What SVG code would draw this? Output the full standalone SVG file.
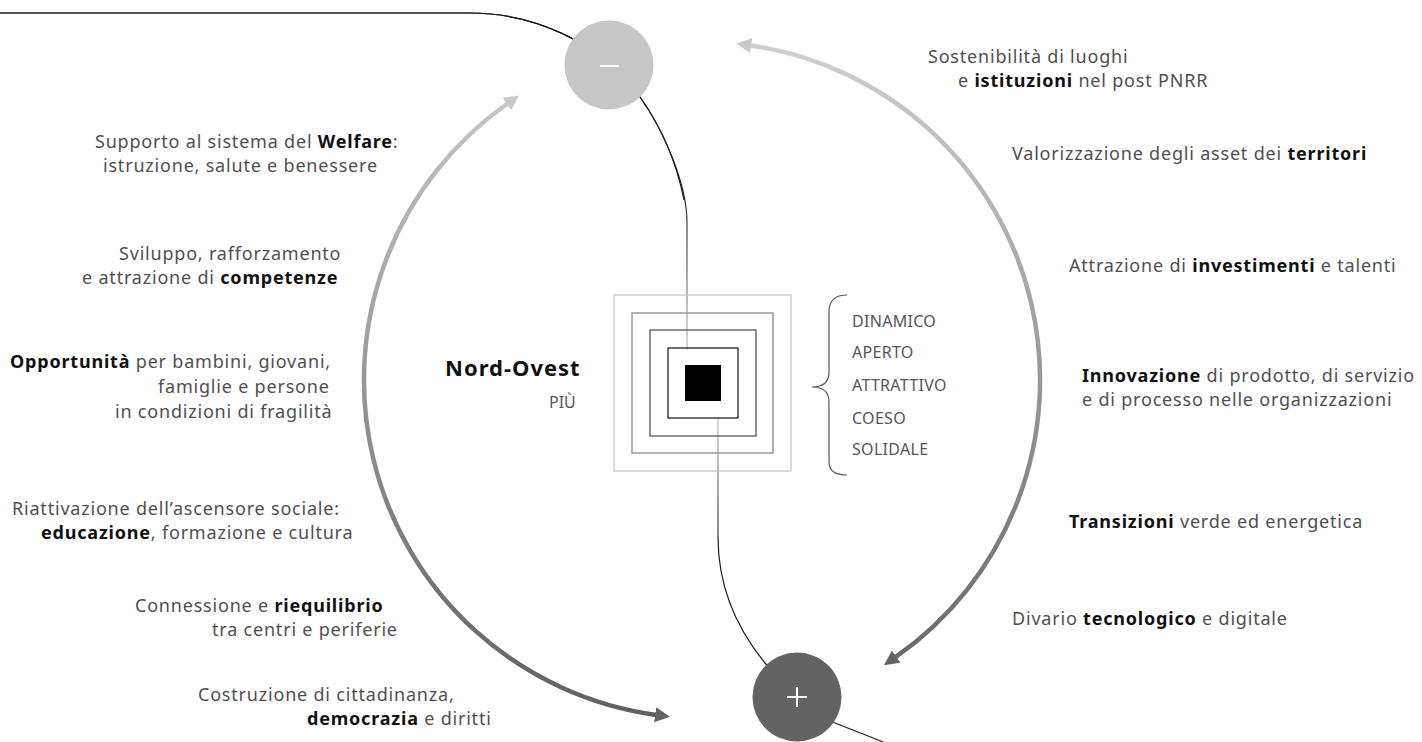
<svg xmlns="http://www.w3.org/2000/svg" width="1422" height="742" viewBox="0 0 1422 742">
<defs>
<style>
.t{font-family:"Noto Sans","DejaVu Sans",sans-serif;font-size:18px;fill:#4f4f4f;letter-spacing:0.8px}
.b{font-weight:bold;fill:#111}
.cap{font-family:"Noto Sans","DejaVu Sans",sans-serif;font-size:16px;fill:#555;letter-spacing:0.3px}
.sq{fill:none;stroke-width:1.3}
.arc{fill:none;stroke:url(#arcGrad);stroke-width:4.5}
</style>
<linearGradient id="arcGrad" gradientUnits="userSpaceOnUse" x1="0" y1="40" x2="0" y2="720">
<stop offset="0" stop-color="#d0d0d0"/>
<stop offset="1" stop-color="#5f5f5f"/>
</linearGradient>
<linearGradient id="topLine" gradientUnits="userSpaceOnUse" x1="0" y1="190" x2="0" y2="350">
<stop offset="0" stop-color="#1a1a1a"/>
<stop offset="1" stop-color="#c0c0c0"/>
</linearGradient>
<linearGradient id="botLine" gradientUnits="userSpaceOnUse" x1="0" y1="420" x2="0" y2="560">
<stop offset="0" stop-color="#c0c0c0"/>
<stop offset="1" stop-color="#1a1a1a"/>
</linearGradient>
<marker id="headLight" markerUnits="userSpaceOnUse" markerWidth="16" markerHeight="16" refX="1" refY="7.5" orient="auto-start-reverse">
<path d="M0,0 L15,7.5 L0,15 Z" fill="#c8c8c8"/>
</marker>
<marker id="headDark" markerUnits="userSpaceOnUse" markerWidth="16" markerHeight="16" refX="1" refY="7.5" orient="auto">
<path d="M0,0 L15,7.5 L0,15 Z" fill="#646464"/>
</marker>
</defs>
<rect width="1422" height="742" fill="#ffffff"/>

<g id="connectors">
<path d="M0,13 L470,13 C530,13 600,40 640,97 C660,125 687,180 687,223 L687,350" fill="none" stroke="url(#topLine)" stroke-width="1.2"/>
<path d="M0,13 L470,13 C530,13 600,40 640,97 C660,125 676,160 684,200" fill="none" stroke="#1a1a1a" stroke-width="1.2"/>
<path d="M718,418 L718,537" fill="none" stroke="url(#botLine)" stroke-width="1.2"/>
<path d="M718,537 C718,590 738,630 765,663 C792,696 812,713 835,723 C855,731 872,737 890,745" fill="none" stroke="#1a1a1a" stroke-width="1.2"/>
<path class="arc" d="M507.6,103.5 A338,338 0 0 0 656.1,714.9" marker-start="url(#headLight)" marker-end="url(#headDark)"/>
<path class="arc" d="M750.2,45.4 A338,338 0 0 1 895.4,657.2" marker-start="url(#headLight)" marker-end="url(#headDark)"/>
</g>

<g id="minus">
<circle cx="609" cy="65" r="44.5" fill="#c6c6c6"/>
<line x1="600" y1="66" x2="619" y2="66" stroke="#ffffff" stroke-width="2"/>
</g>

<g id="plus">
<circle cx="797" cy="697" r="44.5" fill="#636363"/>
<line x1="787" y1="697" x2="807" y2="697" stroke="#ffffff" stroke-width="2"/>
<line x1="797" y1="687" x2="797" y2="707" stroke="#ffffff" stroke-width="2"/>
</g>

<g id="core">
<rect class="sq" x="614" y="295" width="177" height="176" stroke="#c8c8c8"/>
<rect class="sq" x="632" y="313" width="141" height="140" stroke="#8a8a8a"/>
<rect class="sq" x="650" y="330" width="106" height="106" stroke="#555555"/>
<rect class="sq" x="668" y="348" width="70" height="70" stroke="#222222"/>
<rect x="685" y="365" width="36" height="36" fill="#000000"/>
</g>

<g id="title">
<text x="445" y="376" font-family="Noto Sans, DejaVu Sans, sans-serif" font-size="22" font-weight="bold" fill="#111" letter-spacing="1">Nord-Ovest</text>
<text x="549" y="408" font-family="Noto Sans, DejaVu Sans, sans-serif" font-size="16" fill="#555">PIÙ</text>
</g>

<g id="qualities">
<path d="M847,295 C836,295 829,300 829,312 L829,372 C829,382 823,387 812,387 C823,387 829,392 829,402 L829,462 C829,472 836,475 847,475" fill="none" stroke="#555" stroke-width="1.2"/>
<text class="cap" x="852" y="327">DINAMICO</text>
<text class="cap" x="852" y="358">APERTO</text>
<text class="cap" x="852" y="391">ATTRATTIVO</text>
<text class="cap" x="852" y="424">COESO</text>
<text class="cap" x="852" y="455">SOLIDALE</text>
</g>

<g id="left-labels">
<g id="welfare">
<text class="t" x="95" y="148">Supporto al sistema del <tspan class="b">Welfare</tspan>:</text>
<text class="t" x="103" y="172">istruzione, salute e benessere</text>
</g>
<g id="competenze">
<text class="t" x="119" y="260">Sviluppo, rafforzamento</text>
<text class="t" x="82" y="284">e attrazione di <tspan class="b">competenze</tspan></text>
</g>
<g id="opportunita">
<text class="t" x="10" y="368"><tspan class="b">Opportunità</tspan> per bambini, giovani,</text>
<text class="t" x="158" y="393">famiglie e persone</text>
<text class="t" x="115" y="418">in condizioni di fragilità</text>
</g>
<g id="educazione">
<text class="t" x="12" y="515">Riattivazione dell’ascensore sociale:</text>
<text class="t" x="41" y="539"><tspan class="b">educazione</tspan>, formazione e cultura</text>
</g>
<g id="riequilibrio">
<text class="t" x="135" y="612">Connessione e <tspan class="b">riequilibrio</tspan></text>
<text class="t" x="212" y="636">tra centri e periferie</text>
</g>
<g id="democrazia">
<text class="t" x="198" y="701">Costruzione di cittadinanza,</text>
<text class="t" x="307" y="725"><tspan class="b">democrazia</tspan> e diritti</text>
</g>
</g>

<g id="right-labels">
<g id="istituzioni">
<text class="t" x="928" y="63">Sostenibilità di luoghi</text>
<text class="t" x="958" y="87">e <tspan class="b">istituzioni</tspan> nel post PNRR</text>
</g>
<g id="territori">
<text class="t" x="1012" y="160">Valorizzazione degli asset dei <tspan class="b">territori</tspan></text>
</g>
<g id="investimenti">
<text class="t" x="1069" y="272">Attrazione di <tspan class="b">investimenti</tspan> e talenti</text>
</g>
<g id="innovazione">
<text class="t" x="1082" y="382"><tspan class="b">Innovazione</tspan> di prodotto, di servizio</text>
<text class="t" x="1082" y="406">e di processo nelle organizzazioni</text>
</g>
<g id="transizioni">
<text class="t" x="1069" y="528"><tspan class="b">Transizioni</tspan> verde ed energetica</text>
</g>
<g id="tecnologico">
<text class="t" x="1012" y="625">Divario <tspan class="b">tecnologico</tspan> e digitale</text>
</g>
</g>
</svg>
